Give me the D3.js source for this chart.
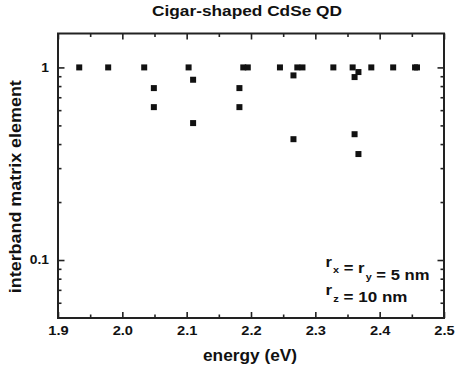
<!DOCTYPE html>
<html>
<head>
<meta charset="utf-8">
<script src="https://cdn.jsdelivr.net/npm/d3@7"></script>
<style>
  html, body { margin: 0; padding: 0; background: #fff; }
  svg { display: block; }
  text { font-family: "Liberation Sans", Arial, sans-serif; font-weight: bold; fill: #111; }
</style>
</head>
<body>
<svg id="chart" width="459" height="374"></svg>
<script>
// ---- data ----
const titleText = "Cigar-shaped CdSe QD";
const xLabel = "energy (eV)";
const yLabel = "interband matrix element";
const energies = [1.933, 1.978, 2.034, 2.049, 2.049, 2.103, 2.110, 2.110,
  2.182, 2.182, 2.188, 2.195, 2.245, 2.266, 2.266, 2.272, 2.280, 2.328,
  2.358, 2.361, 2.361, 2.367, 2.367, 2.387, 2.421, 2.455, 2.458];
const elements = [1, 1, 1, 0.781, 0.622, 1, 0.863, 0.514,
  0.781, 0.622, 1, 1, 1, 0.909, 0.424, 1, 1, 1,
  1, 0.891, 0.450, 0.946, 0.355, 1, 1, 1, 1];
const xMajorTicks = [1.9, 2.0, 2.1, 2.2, 2.3, 2.4, 2.5];
const xMinorTicks = [1.95, 2.05, 2.15, 2.25, 2.35, 2.45];
const yMajorTicks = [0.1, 1];
const yMinorTicks = [0.06, 0.07, 0.08, 0.09, 0.2, 0.3, 0.4, 0.5, 0.6, 0.7, 0.8, 0.9];
const xDomain = [1.9, 2.5];
const yDomain = [0.05, 1.5];

// ---- layout ----
const L = 58, R = 444, T = 33.5, B = 318;
const svg = d3.select("#chart");
const x = d3.scaleLinear().domain(xDomain).range([L, R]);
const y = d3.scaleLog().domain(yDomain).range([B, T]);
const ink = "#222";

function styleAxis(g, w) {
  g.select(".domain").remove();
  g.selectAll(".tick line").attr("stroke", ink).attr("stroke-width", w);
}
function stretch(g, f) {
  g.selectAll("text").each(function () {
    const n = this.getComputedTextLength();
    d3.select(this).attr("textLength", n * f).attr("lengthAdjust", "spacingAndGlyphs");
  });
}

// bottom
const gb = svg.append("g").attr("transform", `translate(0,${B})`)
  .call(d3.axisBottom(x).tickValues(xMajorTicks).tickSize(-6).tickPadding(8.5).tickFormat(d3.format(".1f")));
styleAxis(gb, 1.6);
gb.selectAll("text").attr("font-size", 12).attr("fill", "#111").style("font-family", "Liberation Sans, Arial, sans-serif").style("font-weight", "bold");
stretch(gb, 1.22);
const gbm = svg.append("g").attr("transform", `translate(0,${B})`)
  .call(d3.axisBottom(x).tickValues(xMinorTicks).tickSize(-3.5).tickFormat(""));
styleAxis(gbm, 1.6);

// top
const gt = svg.append("g").attr("transform", `translate(0,${T})`)
  .call(d3.axisTop(x).tickValues(xMajorTicks).tickSize(-6).tickFormat(""));
styleAxis(gt, 1.6);
const gtm = svg.append("g").attr("transform", `translate(0,${T})`)
  .call(d3.axisTop(x).tickValues(xMinorTicks).tickSize(-3.5).tickFormat(""));
styleAxis(gtm, 1.6);

// left
const gl = svg.append("g").attr("transform", `translate(${L},0)`)
  .call(d3.axisLeft(y).tickValues(yMajorTicks).tickSize(-6.5).tickPadding(9).tickFormat(d => d3.format("")(d)));
styleAxis(gl, 1.6);
gl.selectAll("text").attr("font-size", 12).attr("fill", "#111").style("font-family", "Liberation Sans, Arial, sans-serif").style("font-weight", "bold");
stretch(gl, 1.15);
const glm = svg.append("g").attr("transform", `translate(${L},0)`)
  .call(d3.axisLeft(y).tickValues(yMinorTicks).tickSize(-3.5).tickFormat(""));
styleAxis(glm, 1.6);

// right
const gr = svg.append("g").attr("transform", `translate(${R},0)`)
  .call(d3.axisRight(y).tickValues(yMajorTicks).tickSize(-6.5).tickFormat(""));
styleAxis(gr, 1.6);
const grm = svg.append("g").attr("transform", `translate(${R},0)`)
  .call(d3.axisRight(y).tickValues(yMinorTicks).tickSize(-3.5).tickFormat(""));
styleAxis(grm, 1.6);

// frame
svg.append("rect").attr("x", L).attr("y", T).attr("width", R - L).attr("height", B - T)
  .attr("fill", "none").attr("stroke", ink).attr("stroke-width", 2);

// points
const pts = energies.map((e, i) => ({ e, v: elements[i] }));
svg.append("g").selectAll("rect").data(pts).join("rect")
  .attr("x", d => x(d.e) - 3).attr("y", d => y(d.v) - 3)
  .attr("width", 6).attr("height", 6).attr("fill", "#111");

// title
svg.append("text").attr("x", 247).attr("y", 15.5).attr("text-anchor", "middle")
  .attr("font-size", 15).attr("textLength", 190).attr("lengthAdjust", "spacingAndGlyphs")
  .text(titleText);

// x label
svg.append("text").attr("x", 250).attr("y", 361).attr("text-anchor", "middle")
  .attr("font-size", 17).attr("textLength", 94).attr("lengthAdjust", "spacingAndGlyphs")
  .text(xLabel);

// y label
svg.append("text").attr("transform", "translate(21,186.7) rotate(-90)").attr("text-anchor", "middle")
  .attr("font-size", 17).attr("textLength", 213).attr("lengthAdjust", "spacingAndGlyphs")
  .text(yLabel);

// annotation
function annot(x0, yb, parts, width) {
  const g = svg.append("g");
  const t = g.append("text").attr("font-size", 14.5);
  parts.forEach(p => {
    if (p.sub) {
      t.append("tspan").attr("font-size", 9.5).attr("dx", 1).attr("dy", 6.5).text(p.sub);
      t.append("tspan").attr("dy", -6.5).text("");
    } else {
      t.append("tspan").text(p.t);
    }
  });
  const w = t.node().getBBox().width;
  g.attr("transform", `translate(${x0},${yb}) scale(${width / w},1)`);
}
annot(325.5, 266.7, [{t: "r"}, {sub: "x"}, {t: " = r"}, {sub: "y"}, {t: " = 5 nm"}], 104);
annot(325.5, 295, [{t: "r"}, {sub: "z"}, {t: " = 10 nm"}], 82);
</script>
</body>
</html>
